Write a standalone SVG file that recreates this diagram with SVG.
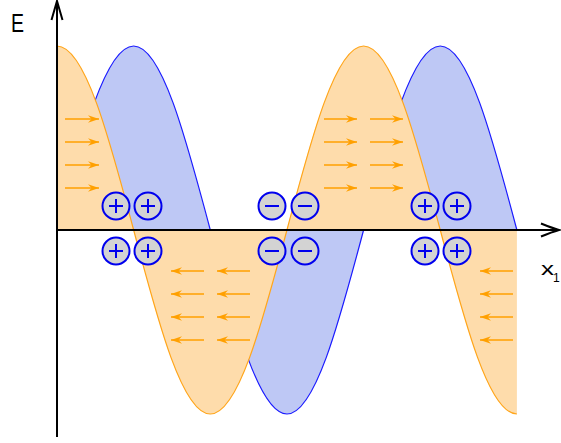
<svg xmlns="http://www.w3.org/2000/svg" width="561" height="443" viewBox="0 0 561 443">
<defs>
<style>
.lbl{font-family:"Liberation Sans",Arial,sans-serif;fill:#000}
.fld{stroke:#ffa000;stroke-width:1.5;fill:none;marker-end:url(#ah)}
.chg circle{fill:#d3d3d3;stroke:#0000ee;stroke-width:2}
.chg path{stroke:#0000ee;stroke-width:2;fill:none}
.axis{stroke:#000;stroke-width:2;fill:none}
</style>
<marker id="ah" markerUnits="userSpaceOnUse" markerWidth="14" markerHeight="10" viewBox="-12 -5 14 10" refX="0" refY="0" orient="auto">
<path d="M0,0 L-11,-3.8 L-7.5,0 L-11,3.8 Z" fill="#ffa000"/>
</marker>
</defs>
<g id="blue-wave">
<path d="M57,230 C82,135.7 105.9,46 133.65,46 C161.4,46 185.3,135.7 210.3,230 C235.3,324.3 259.2,414 286.95,414 C314.7,414 338.6,324.3 363.6,230 C388.6,135.7 412.5,46 440.25,46 C468,46 491.9,135.7 516.9,230 Z" fill="#bec8f5"/>
<path d="M57,230 C82,135.7 105.9,46 133.65,46 C161.4,46 185.3,135.7 210.3,230 C235.3,324.3 259.2,414 286.95,414 C314.7,414 338.6,324.3 363.6,230 C388.6,135.7 412.5,46 440.25,46 C468,46 491.9,135.7 516.9,230" fill="none" stroke="#1a1aff" stroke-width="1.2"/>
</g>
<g id="orange-wave">
<path d="M57,230 L57,46 C84.75,46 108.65,135.7 133.65,230 C158.65,324.3 182.55,414 210.3,414 C238.05,414 261.950,324.3 286.95,230 C311.95,135.7 335.85,46 363.6,46 C391.35,46 415.25,135.7 440.25,230 C465.25,324.3 489.15,414 516.9,414 L516.9,230 Z" fill="#fedcab"/>
<path d="M57,46 C84.75,46 108.65,135.7 133.65,230 C158.65,324.3 182.55,414 210.3,414 C238.05,414 261.95,324.3 286.95,230 C311.95,135.7 335.85,46 363.6,46 C391.35,46 415.25,135.7 440.25,230 C465.25,324.3 489.15,414 516.9,414" fill="none" stroke="#ffa51a" stroke-width="1.2"/>
</g>
<g id="field-arrows">
<line class="fld" x1="65" y1="119" x2="99" y2="119"/>
<line class="fld" x1="65" y1="142" x2="99" y2="142"/>
<line class="fld" x1="65" y1="165" x2="99" y2="165"/>
<line class="fld" x1="65" y1="188" x2="99" y2="188"/>
<line class="fld" x1="324" y1="119" x2="357" y2="119"/>
<line class="fld" x1="324" y1="142" x2="357" y2="142"/>
<line class="fld" x1="324" y1="165" x2="357" y2="165"/>
<line class="fld" x1="324" y1="188" x2="357" y2="188"/>
<line class="fld" x1="370" y1="119" x2="403" y2="119"/>
<line class="fld" x1="370" y1="142" x2="403" y2="142"/>
<line class="fld" x1="370" y1="165" x2="403" y2="165"/>
<line class="fld" x1="370" y1="188" x2="403" y2="188"/>
<line class="fld" x1="204" y1="271" x2="171" y2="271"/>
<line class="fld" x1="204" y1="294" x2="171" y2="294"/>
<line class="fld" x1="204" y1="317" x2="171" y2="317"/>
<line class="fld" x1="204" y1="340" x2="171" y2="340"/>
<line class="fld" x1="250" y1="271" x2="217" y2="271"/>
<line class="fld" x1="250" y1="294" x2="217" y2="294"/>
<line class="fld" x1="250" y1="317" x2="217" y2="317"/>
<line class="fld" x1="250" y1="340" x2="217" y2="340"/>
<line class="fld" x1="513" y1="271" x2="480" y2="271"/>
<line class="fld" x1="513" y1="294" x2="480" y2="294"/>
<line class="fld" x1="513" y1="317" x2="480" y2="317"/>
<line class="fld" x1="513" y1="340" x2="480" y2="340"/>
</g>
<g id="axes">
<path class="axis" d="M57,437 L57,1"/>
<path class="axis" d="M51.5,20 Q55,8 57,1 Q59,8 62.5,20"/>
<path class="axis" d="M57,230 L558,230"/>
<path class="axis" d="M541,223.5 Q552,228 559,230 Q552,232 541,236.5"/>
</g>
<g id="charges-left" class="chg">
<circle cx="116" cy="206" r="13.5"/><path d="M109,206 H123 M116,199 V213"/>
<circle cx="148" cy="206" r="13.5"/><path d="M141,206 H155 M148,199 V213"/>
<circle cx="116" cy="251" r="13.5"/><path d="M109,251 H123 M116,244 V258"/>
<circle cx="148" cy="251" r="13.5"/><path d="M141,251 H155 M148,244 V258"/>
</g>
<g id="charges-middle" class="chg">
<circle cx="272" cy="206" r="13.5"/><path d="M265,206 H279"/>
<circle cx="305" cy="206" r="13.5"/><path d="M298,206 H312"/>
<circle cx="272" cy="251" r="13.5"/><path d="M265,251 H279"/>
<circle cx="305" cy="251" r="13.5"/><path d="M298,251 H312"/>
</g>
<g id="charges-right" class="chg">
<circle cx="425" cy="206" r="13.5"/><path d="M418,206 H432 M425,199 V213"/>
<circle cx="457" cy="206" r="13.5"/><path d="M450,206 H464 M457,199 V213"/>
<circle cx="425" cy="251" r="13.5"/><path d="M418,251 H432 M425,244 V258"/>
<circle cx="457" cy="251" r="13.5"/><path d="M450,251 H464 M457,244 V258"/>
</g>
<g id="labels">
<text class="lbl" x="11" y="32" font-size="25" textLength="13" lengthAdjust="spacingAndGlyphs">E</text>
<text class="lbl" x="541" y="275" font-size="18" textLength="13" lengthAdjust="spacingAndGlyphs">x</text>
<text class="lbl" x="553" y="282" font-size="12">1</text>
</g>
</svg>
